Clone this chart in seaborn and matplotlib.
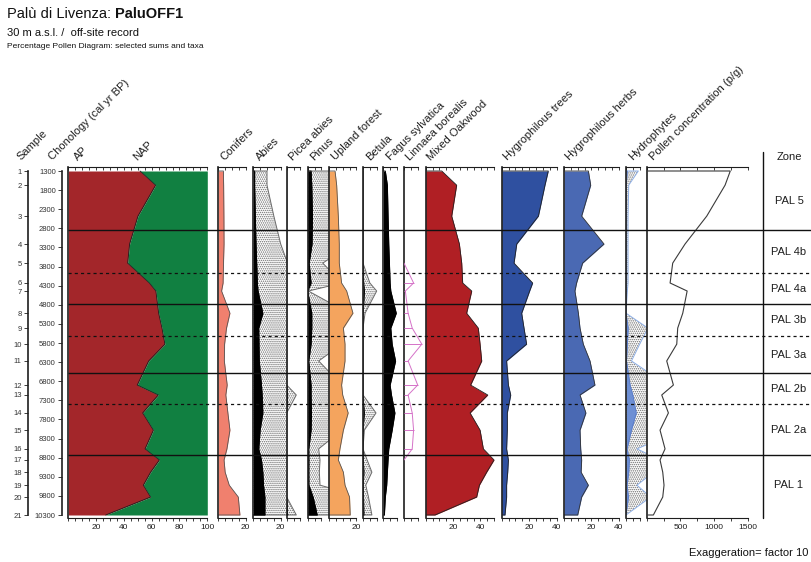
import matplotlib
matplotlib.use("Agg")
import matplotlib.pyplot as plt
import numpy as np
import seaborn as sns

sns.set_theme(style="white")
plt.rcParams["font.family"] = ["Liberation Sans", "DejaVu Sans"]
plt.rcParams["hatch.linewidth"] = 0.7
plt.rcParams["hatch.color"] = "#6c6c6c"

# ---------------------------------------------------------------- data
samples = list(range(1, 22))
ages = [1300, 1670, 2480, 3210, 3710, 4230, 4440, 5020, 5410, 5830, 6270,
        6900, 7160, 7630, 8080, 8570, 8860, 9180, 9520, 9830, 10300]
age_ticks = list(range(1300, 10301, 500))

ap = [51.6, 62.8, 50.1, 44.1, 42.7, 58.3, 63.0, 65.0, 67.4, 69.5, 57.8,
      49.6, 64.7, 53.5, 61.2, 55.2, 65.5, 59.2, 54.0, 59.2, 26.9]
conifers = [3.7, 3.9, 4.1, 4.2, 3.8, 3.5, 2.4, 8.5, 6.0, 4.6, 4.4,
            6.5, 5.5, 7.0, 8.5, 6.3, 4.2, 5.0, 8.0, 14.6, 15.8]
abies = [1.0, 1.0, 1.5, 2.0, 2.5, 3.0, 3.5, 7.0, 4.0, 4.2, 4.4,
         6.0, 6.5, 7.0, 5.0, 4.0, 6.0, 7.0, 7.5, 8.5, 8.5]
picea = [0, 0, 0, 0, 0, 0, 0, 0, 0, 0, 0,
         0, 0.7, 0, 0, 0, 0, 0, 0, 0, 0.7]
pinus = [2.5, 3.0, 3.5, 3.2, 1.1, 2.5, 0.05, 3.0, 3.0, 2.5, 0.8,
         2.5, 2.5, 2.8, 2.5, 0.8, 0.9, 0.85, 0.9, 4.0, 7.0]
upland = [4.4, 5.6, 6.8, 7.5, 7.5, 9.2, 12.9, 17.5, 10.5, 11.7, 11.7,
          9.2, 10.0, 14.0, 10.5, 8.0, 6.8, 10.5, 11.7, 15.0, 15.5]
betula = [0, 0, 0, 0, 0, 0.5, 1.0, 0.15, 0, 0, 0,
          0, 0, 0.95, 0.1, 0, 0.3, 0.65, 0.2, 0.4, 0.65]
fagus = [1.5, 3.0, 3.5, 4.0, 4.5, 5.0, 5.5, 9.5, 5.5, 6.5, 9.0,
         5.0, 6.0, 8.5, 6.5, 4.0, 3.5, 3.0, 2.5, 1.5, 0.8]
linnaea = [0, 0, 0, 0, 0, 0.7, 0.1, 0.3, 0.6, 1.3, 0.3,
           1.0, 0.3, 0.6, 0.7, 0.6, 0, 0, 0, 0, 0]
oakwood = [11.7, 22.6, 19.0, 24.6, 26.3, 27.0, 33.6, 29.9, 38.4, 39.7, 40.9,
           32.8, 45.3, 32.4, 39.7, 42.1, 49.9, 44.5, 39.2, 37.2, 6.8]
hygro_trees = [34.0, 31.6, 26.8, 11.0, 9.0, 22.6, 20.4, 14.6, 16.3, 18.2, 3.6,
               4.9, 6.6, 4.1, 4.1, 3.6, 4.9, 4.4, 3.6, 3.6, 2.4]
hygro_herbs = [17.8, 19.5, 12.9, 29.2, 13.6, 9.2, 8.0, 10.5, 11.7, 14.1, 19.0,
               22.6, 11.7, 16.0, 11.7, 12.2, 12.9, 12.5, 17.8, 12.9, 10.0]
hydrophytes = [0.9, 0.2, 0.15, 0.15, 0.15, 0.15, 0.1, 0, 1.6, 1.0, 0.4,
               3.0, 5.0, 7.5, 4.0, 0.8, 2.5, 2.0, 0.8, 1.8, 0]
pollen_conc = [1240, 1163, 891, 569, 386, 347, 600, 535, 460, 446, 297,
               396, 223, 322, 198, 272, 198, 238, 257, 238, 99]

zones_solid = [2844, 4780, 6585, 8731]
zones_dashed = [3969, 5617, 7396]
zone_names = ["PAL 5", "PAL 4b", "PAL 4a", "PAL 3b", "PAL 3a",
              "PAL 2b", "PAL 2a", "PAL 1"]
EXAG = 10

# ---------------------------------------------------------------- layout
W, H = 812, 562
TOP_PX, BOT_PX = 167, 518
PX_PER_YR = 344 / 9000
Y_TOP = 1300 - (171 - TOP_PX) / PX_PER_YR
Y_BOT = 10300 + (BOT_PX - 515) / PX_PER_YR
PCT = 1.37  # pixels per percent

fig = plt.figure(figsize=(W / 100, H / 100), dpi=100)
fig.patch.set_facecolor("white")

INK = "#1e1e1e"


def px_rect(x0, x1, y0=TOP_PX, y1=BOT_PX):
    return [x0 / W, 1 - y1 / H, (x1 - x0) / W, (y1 - y0) / H]


def make_panel(x0, x1, scale, span, labels=(), step=5):
    ax = fig.add_axes(px_rect(x0, x1))
    ax.patch.set_alpha(0)
    for s in ("top", "right"):
        ax.spines[s].set_visible(False)
    ax.spines["left"].set_linewidth(1.2)
    ax.spines["left"].set_color(INK)
    ax.spines["bottom"].set_linewidth(0.8)
    ax.spines["bottom"].set_color(INK)
    ax.spines["bottom"].set_bounds(0, span)
    ticks = np.arange(0, span + 1e-9, step)
    ax.set_xticks(ticks)
    ax.set_xticklabels([f"{t:g}" if t in labels else "" for t in ticks])
    ax.set_yticks([])
    ax.tick_params(axis="x", bottom=True, direction="out", length=2.5,
                   width=0.6, labelsize=6, pad=1.5, color=INK,
                   labelcolor=INK)
    top = ax.secondary_xaxis("top")
    top.set_xticks(ticks)
    top.set_xticklabels([])
    top.tick_params(axis="x", top=True, direction="in", length=2.5,
                    width=0.6, color=INK)
    top.spines["top"].set_bounds(0, span)
    top.spines["top"].set_linewidth(0.8)
    top.spines["top"].set_color(INK)
    return ax, (0, (x1 - x0) / scale)


def closed(vals):
    xs = [0.0] + list(vals) + [0.0]
    ys = [ages[0]] + list(ages) + [ages[-1]]
    return xs, ys


def curve(ax, xs, ys, color, lw=0.6, z=3):
    sns.lineplot(x=xs, y=ys, ax=ax, orient="y", sort=False, estimator=None,
                 color=color, linewidth=lw, legend=False, zorder=z)


def stipple(ax, vals, edge="#6a6a6a"):
    ex = np.array(vals, dtype=float) * EXAG
    ax.fill_betweenx(ages, 0, ex, facecolor="white", edgecolor="#6c6c6c",
                     hatch="........", linewidth=0, zorder=1)
    xs, ys = closed(ex)
    curve(ax, xs, ys, edge, lw=0.7, z=1.5)


def solid(ax, vals, color, edge=INK):
    ax.fill_betweenx(ages, 0, vals, color=color, linewidth=0, zorder=2)
    xs, ys = closed(vals)
    curve(ax, xs, ys, edge, lw=0.6, z=2.5)


def finish(ax, xlim):
    ax.set_xlim(*xlim)
    ax.set_ylim(Y_BOT, Y_TOP)
    ax.set_xlabel("")
    ax.set_ylabel("")


# AP / NAP
ax, lim = make_panel(68.3, 207.3, 1.39, 100, labels=(20, 40, 60, 80, 100))
ax.fill_betweenx(ages, 0, ap, color="#a3262a", linewidth=0, zorder=2)
ax.fill_betweenx(ages, ap, 100, color="#118041", linewidth=0, zorder=2)
curve(ax, ap, ages, "#202020", lw=0.6)
finish(ax, lim)

# Conifers
ax, lim = make_panel(218.3, 253.3, PCT, 20, labels=(20,))
solid(ax, conifers, "#f0806e", edge="#555555")
finish(ax, lim)

# Abies
ax, lim = make_panel(253.3, 286.7, PCT, 20, labels=(20,))
stipple(ax, abies)
solid(ax, abies, "black", edge="black")
finish(ax, lim)

# Picea abies
ax, lim = make_panel(286.7, 307.7, PCT, 10)
stipple(ax, picea)
solid(ax, picea, "black", edge="black")
finish(ax, lim)

# Pinus
ax, lim = make_panel(307.7, 329.0, PCT, 10)
stipple(ax, pinus)
solid(ax, pinus, "black", edge="black")
finish(ax, lim)

# Upland forest
ax, lim = make_panel(329.0, 363.0, PCT, 20, labels=(20,))
solid(ax, upland, "#f4a45e", edge="#555555")
finish(ax, lim)

# Betula
ax, lim = make_panel(363.0, 383.3, PCT, 10)
stipple(ax, betula)
solid(ax, betula, "black", edge="black")
finish(ax, lim)

# Fagus sylvatica
ax, lim = make_panel(383.3, 404.0, PCT, 10)
solid(ax, fagus, "black", edge="black")
finish(ax, lim)

# Linnaea borealis: exaggerated outline with value bars, only where present
ax, lim = make_panel(404.0, 425.7, PCT, 10)
lin_ex = np.array(linnaea) * EXAG
nz = [i for i, v in enumerate(linnaea) if v > 0]
i0, i1 = max(nz[0] - 1, 0), min(nz[-1] + 1, len(ages) - 1)
curve(ax, list(lin_ex[i0:i1 + 1]), ages[i0:i1 + 1], "#d572c8", lw=0.7)
ax.hlines([ages[i] for i in nz], 0, [lin_ex[i] for i in nz],
          colors="#d572c8", linewidth=0.7, zorder=3)
finish(ax, lim)

# Mixed Oakwood
ax, lim = make_panel(425.7, 501.7, PCT, 50, labels=(20, 40))
solid(ax, oakwood, "#b01f24", edge="#222222")
finish(ax, lim)

# Hygrophilous trees
ax, lim = make_panel(501.7, 564.0, PCT, 40, labels=(20, 40))
solid(ax, hygro_trees, "#2f50a0", edge="#222222")
finish(ax, lim)

# Hygrophilous herbs
ax, lim = make_panel(564.0, 626.0, PCT, 40, labels=(20, 40))
solid(ax, hygro_herbs, "#4a69b3", edge="#333333")
finish(ax, lim)

# Hydrophytes
ax, lim = make_panel(626.0, 646.7, PCT, 10)
stipple(ax, hydrophytes, edge="#8fb0e6")
solid(ax, hydrophytes, "#6d8fd4", edge="#5a7cc8")
finish(ax, lim)

# Pollen concentration
ax, lim = make_panel(646.7, 763.0, 33.7 / 500, 1500,
                     labels=(500, 1000, 1500), step=250)
xs, ys = closed(pollen_conc)
curve(ax, xs, ys, "#3a3a3a", lw=0.8)
finish(ax, lim)

# ---------------------------------------------------------------- zones
ov = fig.add_axes(px_rect(68.3, 812))
ov.set_axis_off()
ov.patch.set_alpha(0)
ov.set_xlim(68.3, 812)
ov.set_ylim(Y_BOT, Y_TOP)
ov.hlines(zones_solid, 68.3, 812, colors="#111111", linewidth=1.0)
ov.hlines(zones_dashed, 68.3, 812, colors="#111111", linewidth=0.9,
          linestyles=(0, (2.5, 2.5)))
ov.plot([763, 763], [1300 - 19 / PX_PER_YR, Y_BOT], color="#111111",
        linewidth=1.0, clip_on=False)
bounds = [ages[0]] + sorted(zones_solid + zones_dashed) + [ages[-1]]
for name, a, b in zip(zone_names, bounds[:-1], bounds[1:]):
    ov.text(789, (a + b) / 2, name, ha="center", va="center", fontsize=8,
            color=INK)

# ---------------------------------------------------------------- left axes
for xpx, ticks, labels in ((28, ages, [str(s) for s in samples]),
                           (62, age_ticks, [str(a) for a in age_ticks])):
    la = fig.add_axes(px_rect(xpx, xpx + 1))
    la.patch.set_alpha(0)
    for s in ("top", "right", "bottom"):
        la.spines[s].set_visible(False)
    la.spines["left"].set_linewidth(1.2)
    la.spines["left"].set_color(INK)
    la.set_ylim(Y_BOT, Y_TOP)
    la.spines["left"].set_bounds(1300, 10300)
    la.set_xticks([])
    la.set_yticks(ticks)
    la.set_yticklabels(labels)
    la.tick_params(axis="y", left=True, direction="out", length=3,
                   width=0.6, labelsize=5.5, pad=1.5, color=INK,
                   labelcolor="#333333")

# ---------------------------------------------------------------- headers
headers = [("Sample", 21), ("Chonology (cal yr BP)", 52.5), ("AP", 77.5),
           ("NAP", 137.5), ("Conifers", 224), ("Abies", 260),
           ("Picea abies", 293.5), ("Pinus", 314), ("Upland forest", 335.5),
           ("Betula", 370.5), ("Fagus sylvatica", 390.5),
           ("Linnaea borealis", 410.5), ("Mixed Oakwood", 431.5),
           ("Hygrophilous trees", 507.5), ("Hygrophilous herbs", 569.5),
           ("Hydrophytes", 632.5), ("Pollen concentration (p/g)", 654)]
for text, xpx in headers:
    fig.text(xpx / W, 1 - 161 / H, text, rotation=45, rotation_mode="anchor",
             ha="left", va="baseline", fontsize=8, color=INK)

fig.text(789 / W, 1 - 157 / H, "Zone", ha="center", va="center",
         fontsize=8, color=INK)

# ---------------------------------------------------------------- titles
t1 = fig.text(7 / W, 1 - 18.5 / H, "Palù di Livenza: ", fontsize=10.5,
              va="baseline", color="#111111")
fig.canvas.draw()
bb = t1.get_window_extent()
fig.text(bb.x1 / W, 1 - 18.5 / H, "PaluOFF1", fontsize=10.5,
         fontweight="bold", va="baseline", color="#111111")
fig.text(7 / W, 1 - 36.5 / H, "30 m a.s.l. /  off-site record", fontsize=8,
         va="baseline", color="#111111")
fig.text(7 / W, 1 - 48.5 / H, "Percentage Pollen Diagram: selected sums and taxa",
         fontsize=6, va="baseline", color="#111111")
fig.text(808 / W, 1 - 553 / H, "Exaggeration= factor 10", fontsize=8,
         ha="right", va="center", color="#111111")

fig.savefig("out.png", dpi=100, facecolor="white")
